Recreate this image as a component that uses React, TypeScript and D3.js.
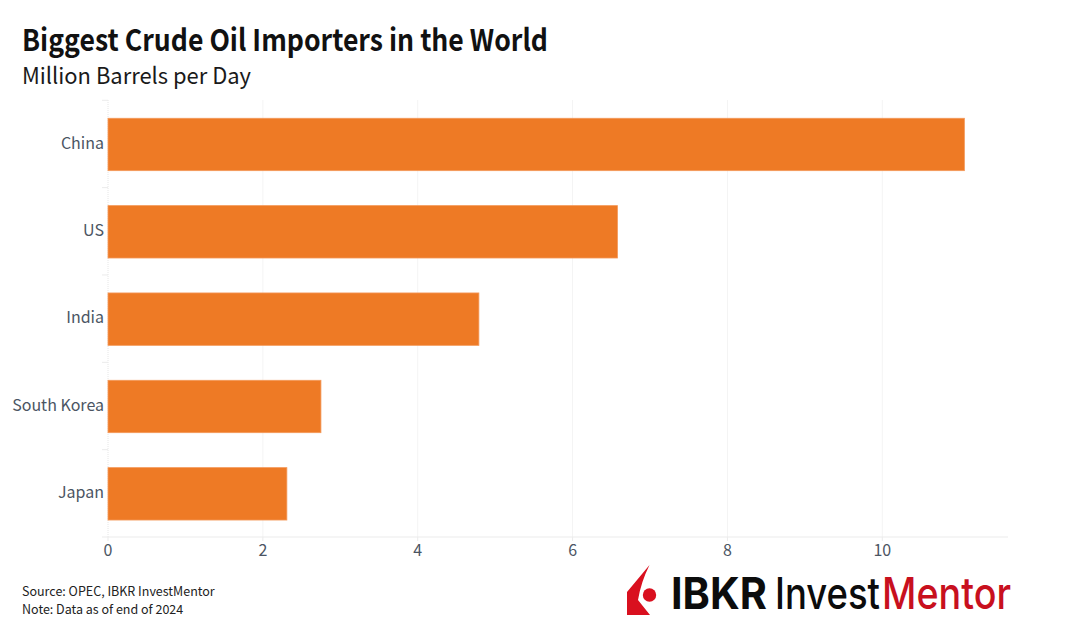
import React, { useLayoutEffect, useRef } from "react";
import * as d3 from "d3";

const countries = ["China", "US", "India", "South Korea", "Japan"];
const barrels = [11.06, 6.58, 4.79, 2.75, 2.31];
const xTicks = [0, 2, 4, 6, 8, 10];
const titleText = "Biggest Crude Oil Importers in the World";
const subtitleText = "Million Barrels per Day";
const sourceLines = ["Source: OPEC, IBKR InvestMentor", "Note: Data as of end of 2024"];

const W = 1065, H = 641;
const FONT = "'Noto Sans CJK SC', 'Noto Sans', sans-serif";
const LOGO = "Inter, 'Liberation Sans', sans-serif";

function LogoWord({ x, width, weight, fill, children }: { x: number; width: number; weight: number; fill: string; children: string }) {
  const ref = useRef<SVGTextElement>(null);
  useLayoutEffect(() => {
    const el = ref.current;
    if (!el) return;
    const natural = el.getComputedTextLength();
    el.setAttribute("transform", `translate(${x},609) scale(${width / natural},1)`);
  }, [x, width]);
  return (
    <text ref={ref} fontFamily={LOGO} fontSize={44} fontWeight={weight} fill={fill}>
      {children}
    </text>
  );
}

export default function App() {
  const x = d3.scaleLinear().domain([0, 10]).range([108, 882.3]);
  const y = d3.scaleBand<string>().domain(countries).range([100.8, 537.5]).paddingInner(0.4).paddingOuter(0.2);
  const step = y.step();
  const bandEdges = d3.range(countries.length + 1).map((i) => 100.3 + i * step);
  return (
    <svg width={W} height={H} viewBox={`0 0 ${W} ${H}`} style={{ position: "absolute", left: 0, top: 0, background: "#fff" }}>
      <g stroke="#f4f4f4" strokeWidth={1}>
        {xTicks.slice(1).map((t) => (
          <line key={t} x1={x(t)} x2={x(t)} y1={100} y2={537} />
        ))}
      </g>
      <line x1={108} x2={108} y1={100} y2={537} stroke="#e6e6e6" strokeDasharray="1 1" />
      <line x1={108} x2={1008} y1={537} y2={537} stroke="#ebebeb" />
      {bandEdges.map((b, i) => (
        <line key={i} x1={102} x2={108} y1={b} y2={b} stroke="#ebebeb" />
      ))}
      {xTicks.map((t) => (
        <line key={t} x1={x(t)} x2={x(t)} y1={537} y2={541} stroke="#ebebeb" />
      ))}
      {countries.map((c, i) => (
        <rect key={c} x={x(0)} y={y(c)!} width={x(barrels[i]) - x(0)} height={y.bandwidth()} fill="#EE7A25" stroke="#F4995A" strokeWidth={0.8} />
      ))}
      <g fontFamily={FONT} fontSize={16} fill="#4b5563">
        {countries.map((c) => (
          <text key={c} x={104} y={y(c)! + y.bandwidth() / 2 + 4.3} textAnchor="end">{c}</text>
        ))}
        {xTicks.map((t) => (
          <text key={t} x={x(t)} y={556} textAnchor="middle">{t}</text>
        ))}
      </g>
      <text x={22} y={51} fontFamily={FONT} fontSize={30} fontWeight={700} fill="#111" textLength={526} lengthAdjust="spacingAndGlyphs">{titleText}</text>
      <text x={22} y={84} fontFamily={FONT} fontSize={22.5} fill="#1a1a1a" textLength={229} lengthAdjust="spacingAndGlyphs">{subtitleText}</text>
      <g fontFamily={FONT} fontSize={12.5} fill="#222">
        {sourceLines.map((s, i) => (
          <text key={i} x={22} y={596 + i * 18}>{s}</text>
        ))}
      </g>
      <path d="M649.5 565 L627 592 L627 615 L650 615 L638 600 Q641 582 649.5 565 Z" fill="#D9101F" />
      <circle cx={649.5} cy={595} r={6.7} fill="#D9101F" />
      <LogoWord x={671} width={96} weight={700} fill="#0c0c0c">IBKR</LogoWord>
      <LogoWord x={775} width={105} weight={500} fill="#0c0c0c">Invest</LogoWord>
      <LogoWord x={882} width={129} weight={500} fill="#C8101E">Mentor</LogoWord>
    </svg>
  );
}
